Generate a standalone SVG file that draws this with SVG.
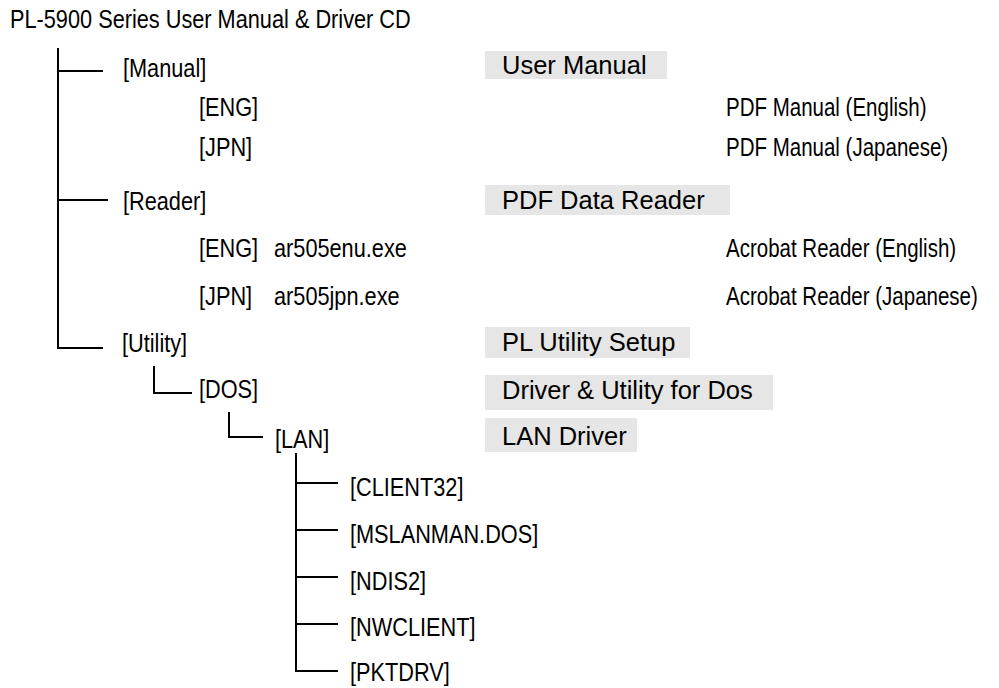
<svg xmlns="http://www.w3.org/2000/svg" width="999" height="688" viewBox="0 0 999 688">
<style>
.n{font-family:"Liberation Sans",Arial,sans-serif;font-size:26.5px;fill:#000}
.r{font-family:"Liberation Sans",Arial,sans-serif;font-size:25px;fill:#000}
.b{font-family:"Liberation Sans",Arial,sans-serif;font-size:25.5px;fill:#000}
.box{fill:#e6e6e6}
.ln{fill:none;stroke:#000;stroke-width:2;stroke-linejoin:miter;stroke-linecap:butt}
</style>
<rect width="999" height="688" fill="#fff"/>
<g id="connectors">
<path class="ln" d="M58,48 V348 H103"/>
<path class="ln" d="M58,71 H103"/>
<path class="ln" d="M58,200 H108"/>
<path class="ln" d="M154,366 V393 H192"/>
<path class="ln" d="M229,412 V437 H263"/>
<path class="ln" d="M296,453 V671 H338"/>
<path class="ln" d="M296,483 H338 M296,530 H338 M296,577 H338 M296,624 H338"/>
</g>
<g id="root"><text class="n" transform="translate(10,28) scale(0.82,1)">PL-5900 Series User Manual &amp; Driver CD</text></g>
<g id="manual"><text class="n" transform="translate(123,77) scale(0.82,1)">[Manual]</text></g>
<g id="manual-eng"><text class="n" transform="translate(199,116) scale(0.82,1)">[ENG]</text></g>
<g id="manual-jpn"><text class="n" transform="translate(199,156) scale(0.82,1)">[JPN]</text></g>
<g id="reader"><text class="n" transform="translate(123,210) scale(0.82,1)">[Reader]</text></g>
<g id="reader-eng"><text class="n" transform="translate(199,257) scale(0.82,1)">[ENG]</text><text class="n" transform="translate(274,257) scale(0.82,1)">ar505enu.exe</text></g>
<g id="reader-jpn"><text class="n" transform="translate(199,305) scale(0.82,1)">[JPN]</text><text class="n" transform="translate(274,305) scale(0.82,1)">ar505jpn.exe</text></g>
<g id="utility"><text class="n" transform="translate(122,352) scale(0.82,1)">[Utility]</text></g>
<g id="dos"><text class="n" transform="translate(199,398) scale(0.82,1)">[DOS]</text></g>
<g id="lan"><text class="n" transform="translate(275,448) scale(0.82,1)">[LAN]</text></g>
<g id="client32"><text class="n" transform="translate(350,496) scale(0.82,1)">[CLIENT32]</text></g>
<g id="mslanman"><text class="n" transform="translate(350,543) scale(0.82,1)">[MSLANMAN.DOS]</text></g>
<g id="ndis2"><text class="n" transform="translate(350,590) scale(0.82,1)">[NDIS2]</text></g>
<g id="nwclient"><text class="n" transform="translate(350,636) scale(0.82,1)">[NWCLIENT]</text></g>
<g id="pktdrv"><text class="n" transform="translate(350,681) scale(0.82,1)">[PKTDRV]</text></g>
<g id="lbl-user-manual"><rect class="box" x="485" y="51" width="182" height="28"/><text class="b" x="502" y="74">User Manual</text></g>
<g id="lbl-pdf-eng"><text class="r" transform="translate(726,116) scale(0.82,1)">PDF Manual (English)</text></g>
<g id="lbl-pdf-jpn"><text class="r" transform="translate(726,156) scale(0.82,1)">PDF Manual (Japanese)</text></g>
<g id="lbl-pdf-reader"><rect class="box" x="485" y="185" width="245" height="30"/><text class="b" x="502" y="209">PDF Data Reader</text></g>
<g id="lbl-acro-eng"><text class="r" transform="translate(726,257) scale(0.82,1)">Acrobat Reader (English)</text></g>
<g id="lbl-acro-jpn"><text class="r" transform="translate(726,305) scale(0.82,1)">Acrobat Reader (Japanese)</text></g>
<g id="lbl-pl-utility"><rect class="box" x="485" y="327" width="205" height="31"/><text class="b" x="502" y="351">PL Utility Setup</text></g>
<g id="lbl-dos"><rect class="box" x="485" y="375" width="288" height="35"/><text class="b" x="502" y="399">Driver &amp; Utility for Dos</text></g>
<g id="lbl-lan"><rect class="box" x="485" y="418" width="152" height="34"/><text class="b" x="502" y="445">LAN Driver</text></g>
</svg>
